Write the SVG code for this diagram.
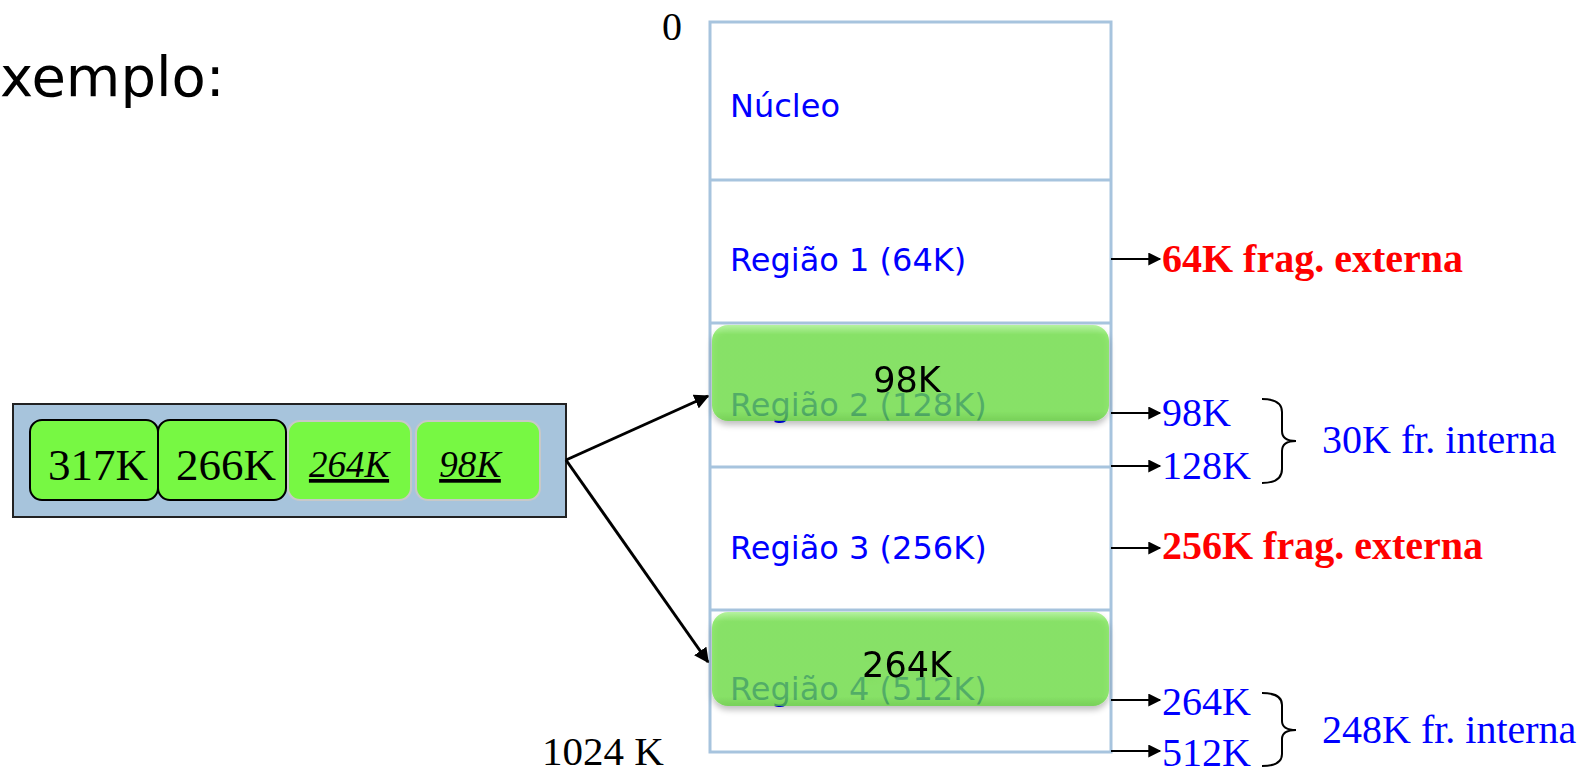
<svg xmlns="http://www.w3.org/2000/svg" width="1580" height="773" viewBox="0 0 1580 773">
  <defs>
    <style>
      .serif { font-family: "Liberation Serif", "Times New Roman", serif; }
      .geo { font-family: "DejaVu Sans", "Noto Sans", sans-serif; }
      .mem { fill: none; stroke: #A7C4DE; stroke-width: 3; }
      .reg { fill: #0000FF; font-size: 32px; }
      .conn { stroke: #000; stroke-width: 3; fill: none; }
      .thin { stroke: #000; stroke-width: 2; fill: none; }
      .ext { fill: #FF0000; font-size: 40px; font-weight: bold; }
      .blue { fill: #0000FF; font-size: 40px; }
      .brace { stroke: #000; stroke-width: 2; fill: none; }
      .qtext { font-size: 45px; fill: #000; }
      .qital { font-size: 37px; font-style: italic; text-decoration: underline; fill: #000; }
    </style>
    <marker id="ahBig" viewBox="0 0 10 10" refX="9" refY="5" markerWidth="5" markerHeight="5" orient="auto">
      <path d="M0,0 L10,5 L0,10 z" fill="#000"/>
    </marker>
    <marker id="ahS" viewBox="0 0 10 10" refX="9" refY="5" markerWidth="16" markerHeight="13" orient="auto" markerUnits="userSpaceOnUse">
      <path d="M0,0 L10,5 L0,10 z" fill="#000"/>
    </marker>
    <linearGradient id="gloss" x1="0" y1="0" x2="0" y2="1">
      <stop offset="0" stop-color="#9AEE7C"/>
      <stop offset="0.1" stop-color="#6CE242"/>
      <stop offset="0.9" stop-color="#6CE242"/>
      <stop offset="1" stop-color="#58CC30"/>
    </linearGradient>
    <filter id="shadow" x="-5%" y="-10%" width="110%" height="130%">
      <feGaussianBlur in="SourceAlpha" stdDeviation="3"/>
      <feOffset dy="4"/>
      <feComponentTransfer><feFuncA type="linear" slope="0.35"/></feComponentTransfer>
      <feMerge><feMergeNode/><feMergeNode in="SourceGraphic"/></feMerge>
    </filter>
  </defs>

  <!-- heading -->
  <text class="geo" x="0" y="96" font-size="56" fill="#000">xemplo:</text>

  <!-- address labels -->
  <text class="serif" x="662" y="40" font-size="40" fill="#000">0</text>
  <text class="serif" x="542" y="765" font-size="41" fill="#000">1024 K</text>

  <!-- memory partitions -->
  <g id="memory">
    <rect class="mem" x="710" y="22" width="401" height="730"/>
    <line class="mem" x1="710" y1="180" x2="1111" y2="180"/>
    <line class="mem" x1="710" y1="323" x2="1111" y2="323"/>
    <line class="mem" x1="710" y1="467" x2="1111" y2="467"/>
    <line class="mem" x1="710" y1="610" x2="1111" y2="610"/>
  </g>
  <g id="nucleo"><text class="geo reg" x="730" y="117">Núcleo</text></g>
  <g id="regiao1"><text class="geo reg" x="730" y="271">Região 1 (64K)</text></g>
  <g id="regiao2"><text class="geo reg" x="730" y="416">Região 2 (128K)</text></g>
  <g id="regiao3"><text class="geo reg" x="730" y="559">Região 3 (256K)</text></g>
  <g id="regiao4"><text class="geo reg" x="730" y="700">Região 4 (512K)</text></g>

  <!-- jobs placed in partitions -->
  <g id="job98" filter="url(#shadow)">
    <rect x="712" y="325" width="397" height="96" rx="16" fill="url(#gloss)" fill-opacity="0.72"/>
    <text class="geo" x="907" y="392" font-size="35" text-anchor="middle" fill="#000">98K</text>
  </g>
  <g id="job264" filter="url(#shadow)">
    <rect x="712" y="612" width="397" height="94" rx="16" fill="url(#gloss)" fill-opacity="0.72"/>
    <text class="geo" x="907" y="677" font-size="35" text-anchor="middle" fill="#000">264K</text>
  </g>

  <!-- job queue -->
  <g id="queue">
    <rect x="13" y="404" width="553" height="113" fill="#A7C4DC" stroke="#222" stroke-width="2"/>
    <rect x="30" y="420" width="128" height="80" rx="12" fill="#77F843" stroke="#000" stroke-width="2"/>
    <rect x="158" y="420" width="128" height="80" rx="12" fill="#77F843" stroke="#000" stroke-width="2"/>
    <rect x="288" y="421" width="123" height="79" rx="12" fill="#77F843" stroke="#C8C8C8" stroke-width="2"/>
    <rect x="416" y="421" width="124" height="79" rx="12" fill="#77F843" stroke="#C8C8C8" stroke-width="2"/>
    <text class="serif qtext" x="98" y="480" text-anchor="middle">317K</text>
    <text class="serif qtext" x="226" y="480" text-anchor="middle">266K</text>
    <text class="serif qital" x="349" y="477" text-anchor="middle">264K</text>
    <text class="serif qital" x="470" y="477" text-anchor="middle">98K</text>
  </g>

  <!-- connectors -->
  <g id="connectors">
    <line class="conn" x1="566" y1="460" x2="708" y2="396" marker-end="url(#ahBig)"/>
    <line class="conn" x1="566" y1="460" x2="708" y2="662" marker-end="url(#ahBig)"/>
    <line class="thin" x1="1111" y1="259" x2="1160" y2="259" marker-end="url(#ahS)"/>
    <line class="thin" x1="1111" y1="413" x2="1160" y2="413" marker-end="url(#ahS)"/>
    <line class="thin" x1="1111" y1="466" x2="1160" y2="466" marker-end="url(#ahS)"/>
    <line class="thin" x1="1111" y1="548" x2="1160" y2="548" marker-end="url(#ahS)"/>
    <line class="thin" x1="1111" y1="700" x2="1160" y2="700" marker-end="url(#ahS)"/>
    <line class="thin" x1="1111" y1="751" x2="1160" y2="751" marker-end="url(#ahS)"/>
  </g>

  <!-- fragmentation notes -->
  <g id="frag1"><text class="serif ext" x="1162" y="272">64K frag. externa</text></g>
  <g id="frag2">
    <text class="serif blue" x="1162" y="426">98K</text>
    <text class="serif blue" x="1162" y="479">128K</text>
    <path class="brace" d="M1262,399 Q1282,399 1282,412 L1282,431 Q1282,441 1296,441 Q1282,441 1282,451 L1282,469 Q1282,483 1262,483"/>
    <text class="serif blue" x="1322" y="453">30K fr. interna</text>
  </g>
  <g id="frag3"><text class="serif ext" x="1162" y="559">256K frag. externa</text></g>
  <g id="frag4">
    <text class="serif blue" x="1162" y="715">264K</text>
    <text class="serif blue" x="1162" y="766">512K</text>
    <path class="brace" d="M1262,693 Q1282,693 1282,705 L1282,721 Q1282,730 1296,730 Q1282,730 1282,739 L1282,754 Q1282,766 1262,766"/>
    <text class="serif blue" x="1322" y="743">248K fr. interna</text>
  </g>
</svg>
